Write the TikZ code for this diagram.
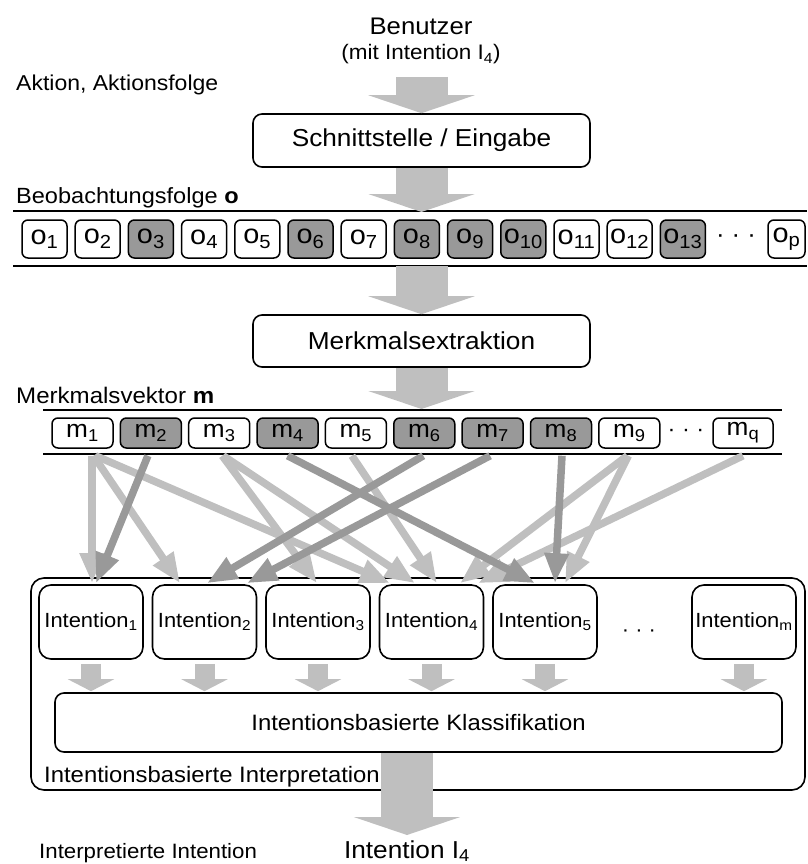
\documentclass[tikz,border=0pt]{standalone}
\usepackage{fontspec}
\setmainfont{Liberation Sans}[FakeStretch=1.07]
\usetikzlibrary{arrows.meta}

\definecolor{litegray}{gray}{0.75}
\definecolor{darkgray}{gray}{0.6}
\definecolor{shadegray}{gray}{0.6}

\newcommand{\setfs}[1]{\fontsize{#1}{#1}\selectfont}

\tikzset{
  bigarrow/.style={draw=litegray, line width=52pt,
    -{Triangle[length=18pt,width=106pt]}},
  smallarrow/.style={draw=litegray, line width=20pt,
    -{Triangle[length=12pt,width=46pt]}},
  litearrow/.style={draw=litegray, line width=7.5pt,
    -{Triangle[length=30pt,width=23pt]}},
  darkarrow/.style={draw=darkgray, line width=7.5pt,
    -{Triangle[length=30pt,width=23pt]}},
  procbox/.style={draw, line width=1.6pt, rounded corners=9pt, fill=white,
    inner sep=0pt, font=\setfs{24.5}},
  obox/.style={draw, line width=1.5pt, rounded corners=6pt, fill=white,
    minimum width=45pt, minimum height=38pt, inner sep=0pt, font=\setfs{27}},
  oshade/.style={obox, fill=shadegray},
  mbox/.style={draw, line width=1.5pt, rounded corners=6pt, fill=white,
    minimum width=61pt, minimum height=30pt, inner sep=0pt, font=\setfs{24.5}},
  mshade/.style={mbox, fill=shadegray},
  intbox/.style={draw, line width=1.6pt, rounded corners=12pt, fill=white,
    minimum width=104pt, minimum height=74pt, inner sep=0pt, font=\setfs{20.5}},
  rowline/.style={line width=2pt},
  lbl/.style={inner sep=0pt},
}

\begin{document}
\begin{tikzpicture}[x=1pt,y=-1pt]
\useasboundingbox (0,0) rectangle (807,864);

% user and input stage
\node[lbl, anchor=base, font=\setfs{24}] (user) at (421,35) {Benutzer};
\node[lbl, anchor=base, font=\setfs{21}] (userint) at (421,60) {(mit Intention I\textsubscript{4})};
\node[lbl, anchor=base west, font=\setfs{21.5}] (action) at (16,91) {Aktion, Aktionsfolge};

\node[procbox, minimum width=337pt, minimum height=53pt] (iface) at (421.5,140.5) {Schnittstelle / Eingabe};
\coordinate (a1) at (421.5,77);
\draw[bigarrow] (a1) -- (iface.north);

% observation sequence
\node[lbl, anchor=base west, font=\setfs{22}] (obslbl) at (16,203) {Beobachtungsfolge \textbf{o}};
\draw[rowline] (13,211) -- (807,211);
\draw[rowline] (13,266) -- (807,266);
\coordinate (otop) at (421.5,212);
\draw[bigarrow] (iface.south) -- (otop);

\node[obox]   (o1)  at (44.5,239)  {o\textsubscript{1}};
\node[obox]   (o2)  at (97.7,239)  {o\textsubscript{2}};
\node[oshade] (o3)  at (150.9,239) {o\textsubscript{3}};
\node[obox]   (o4)  at (204.1,239) {o\textsubscript{4}};
\node[obox]   (o5)  at (257.3,239) {o\textsubscript{5}};
\node[oshade] (o6)  at (310.5,239) {o\textsubscript{6}};
\node[obox]   (o7)  at (363.7,239) {o\textsubscript{7}};
\node[oshade] (o8)  at (416.9,239) {o\textsubscript{8}};
\node[oshade] (o9)  at (470.1,239) {o\textsubscript{9}};
\node[oshade] (o10) at (523.3,239) {o\textsubscript{10}};
\node[obox]   (o11) at (576.5,239) {o\textsubscript{11}};
\node[obox]   (o12) at (629.7,239) {o\textsubscript{12}};
\node[oshade] (o13) at (682.9,239) {o\textsubscript{13}};
\node[lbl, font=\setfs{24}] (odots) at (736,239) {· · ·};
\node[obox, minimum width=37pt] (op) at (786.5,239) {o\textsubscript{p}};

% feature extraction
\node[procbox, minimum width=337pt, minimum height=52pt] (feat) at (421.5,341) {Merkmalsextraktion};
\coordinate (obot) at (421.5,266);
\draw[bigarrow] (obot) -- (feat.north);

\node[lbl, anchor=base west, font=\setfs{22.5}] (mlbl) at (16,403) {Merkmalsvektor \textbf{m}};
\draw[rowline] (43,410) -- (782,410);
\draw[rowline] (43,454) -- (782,454);
\coordinate (mtop) at (421.5,409);
\draw[bigarrow] (feat.south) -- (mtop);

\node[mbox]   (m1) at (82.5,433)  {m\textsubscript{1}};
\node[mshade] (m2) at (150.9,433) {m\textsubscript{2}};
\node[mbox]   (m3) at (219.2,433) {m\textsubscript{3}};
\node[mshade] (m4) at (287.6,433) {m\textsubscript{4}};
\node[mbox]   (m5) at (355.9,433) {m\textsubscript{5}};
\node[mshade] (m6) at (424.3,433) {m\textsubscript{6}};
\node[mshade] (m7) at (492.6,433) {m\textsubscript{7}};
\node[mshade] (m8) at (561,433)   {m\textsubscript{8}};
\node[mbox]   (m9) at (629.3,433) {m\textsubscript{9}};
\node[lbl, font=\setfs{22}] (mdots) at (686,433) {· · ·};
\node[mbox, minimum width=60pt] (mq) at (743,433) {m\textsubscript{q}};

% intention based interpretation
\node[draw, line width=1.6pt, rounded corners=13pt, minimum width=774pt,
      minimum height=212pt, inner sep=0pt] (interp) at (418,684) {};
\node[lbl, anchor=base west, font=\setfs{22.3}] (interplbl) at (44,782) {Intentionsbasierte Interpretation};

\node[intbox] (I1) at (91,622)    {Intention\textsubscript{1}};
\node[intbox] (I2) at (204.5,622) {Intention\textsubscript{2}};
\node[intbox] (I3) at (318,622)   {Intention\textsubscript{3}};
\node[intbox] (I4) at (431.5,622) {Intention\textsubscript{4}};
\node[intbox] (I5) at (545,622)   {Intention\textsubscript{5}};
\node[lbl, font=\setfs{20.5}] (idots) at (639,633) {· · ·};
\node[intbox] (Im) at (744,622)   {Intention\textsubscript{m}};

\node[procbox, minimum width=727pt, minimum height=59pt, font=\setfs{22.3}] (klass) at (418.5,722.5) {Intentionsbasierte Klassifikation};

\foreach \n in {I1,I2,I3,I4,I5,Im}
  \draw[smallarrow] ([yshift=-4pt]\n.south) -- ([yshift=1pt]\n.south |- klass.north);

% feature to intention links (light first, dark on top)
\draw[litearrow] ([xshift=9.5pt,yshift=-7pt]m1.south) -- ([xshift=1pt,yshift=1pt]I1.north);
\draw[litearrow] ([xshift=11pt,yshift=-7pt]m1.south) -- ([xshift=-24.5pt,yshift=1pt]I2.north);
\draw[litearrow] ([xshift=13pt,yshift=-7pt]m1.south) -- ([xshift=-41.5pt,yshift=1pt]I4.north);
\draw[litearrow] ([xshift=3pt,yshift=-7pt]m3.south) -- ([xshift=-1pt,yshift=1pt]I3.north);
\draw[litearrow] ([xshift=4pt,yshift=-7pt]m3.south) -- ([xshift=-16.5pt,yshift=1pt]I4.north);
\draw[litearrow] ([xshift=-4pt,yshift=-7pt]m5.south) -- ([xshift=5.5pt,yshift=1pt]I4.north);
\draw[litearrow] ([xshift=-2pt,yshift=-7pt]m9.south) -- ([xshift=28.5pt,yshift=1pt]I4.north);
\draw[litearrow] ([xshift=-1pt,yshift=-7pt]m9.south) -- ([xshift=20pt,yshift=1pt]I5.north);
\draw[litearrow] ([yshift=-7pt]mq.south) -- ([xshift=46.5pt,yshift=1pt]I4.north);

\draw[darkarrow] ([xshift=-3pt,yshift=-7pt]m2.south) -- ([xshift=5pt,yshift=1pt]I1.north);
\draw[darkarrow] ([yshift=-7pt]m4.south) -- ([xshift=-10pt,yshift=1pt]I5.north);
\draw[darkarrow] ([xshift=-1pt,yshift=-7pt]m6.south) -- ([xshift=2.5pt,yshift=1pt]I2.north);
\draw[darkarrow] ([xshift=-2.5pt,yshift=-7pt]m7.south) -- ([xshift=42.5pt,yshift=1pt]I2.north);
\draw[darkarrow] ([xshift=1pt,yshift=-7pt]m8.south) -- ([xshift=10pt,yshift=1pt]I5.north);

% result
\node[lbl, anchor=base west, font=\setfs{20.8}] (reslbl) at (39,858) {Interpretierte Intention};
\node[lbl, anchor=base, font=\setfs{24.5}] (result) at (407,858) {Intention I\textsubscript{4}};
\coordinate (restip) at (407,835);
\draw[bigarrow] ([xshift=-11.5pt]klass.south) -- (restip);
\end{tikzpicture}
\end{document}
